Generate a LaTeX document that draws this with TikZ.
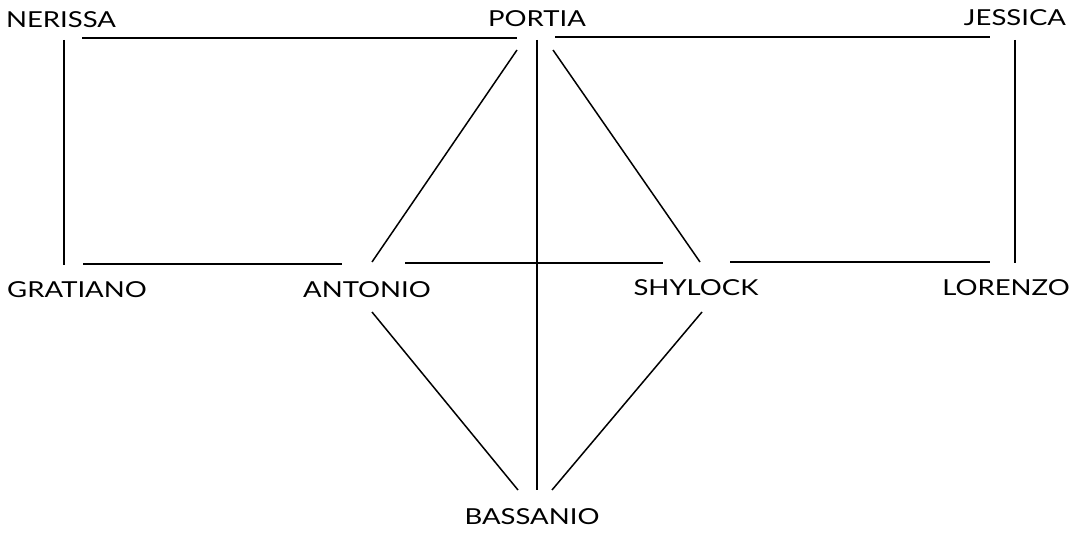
\documentclass[tikz,border=0pt]{standalone}
\usepackage{fontspec}
\setmainfont{Lato}[FakeStretch=1.25]
\usepackage{tikz}
\usetikzlibrary{calc}

\begin{document}
\begin{tikzpicture}[x=1pt,y=-1pt,
  persona/.style={inner sep=0pt,font=\fontsize{22}{26}\selectfont},
  tie/.style={line width=1.5pt}]
\useasboundingbox (0,0) rectangle (1077,537);
% characters
\node[persona] (nerissa)  at (61,20)   {NERISSA};
\node[persona] (portia)   at (537,19)  {PORTIA};
\node[persona] (jessica)  at (1015,18) {JESSICA};
\node[persona] (gratiano) at (77,290)  {GRATIANO};
\node[persona] (antonio)  at (367,290) {ANTONIO};
\node[persona] (shylock)  at (696,288) {SHYLOCK};
\node[persona] (lorenzo)  at (1006,288) {LORENZO};
\node[persona] (bassanio) at (532,517) {BASSANIO};
% ties
\draw[tie] ($(nerissa)+(21,18)$) -- ($(portia)+(-20,19)$);
\draw[tie] ($(portia)+(18,18)$) -- ($(jessica)+(-25,19)$);
\draw[tie] ($(nerissa)+(3,20)$) -- ($(gratiano)+(-13,-25)$);
\draw[tie] ($(jessica)+(0,22)$) -- ($(lorenzo)+(9,-25)$);
\draw[tie] ($(gratiano)+(6,-26)$) -- ($(antonio)+(-25,-26)$);
\draw[tie] ($(antonio)+(38,-27)$) -- ($(shylock)+(-33,-25)$);
\draw[tie] ($(shylock)+(34,-26)$) -- ($(lorenzo)+(-16,-26)$);
\draw[tie] ($(portia)+(-20,31)$) -- ($(antonio)+(5,-28)$);
\draw[tie] ($(portia)+(16,31)$) -- ($(shylock)+(4,-26)$);
\draw[tie] ($(portia)+(0,21)$) -- ($(bassanio)+(5,-27)$);
\draw[tie] ($(antonio)+(5,22)$) -- ($(bassanio)+(-14,-27)$);
\draw[tie] ($(shylock)+(6,24)$) -- ($(bassanio)+(20,-27)$);
\end{tikzpicture}
\end{document}
